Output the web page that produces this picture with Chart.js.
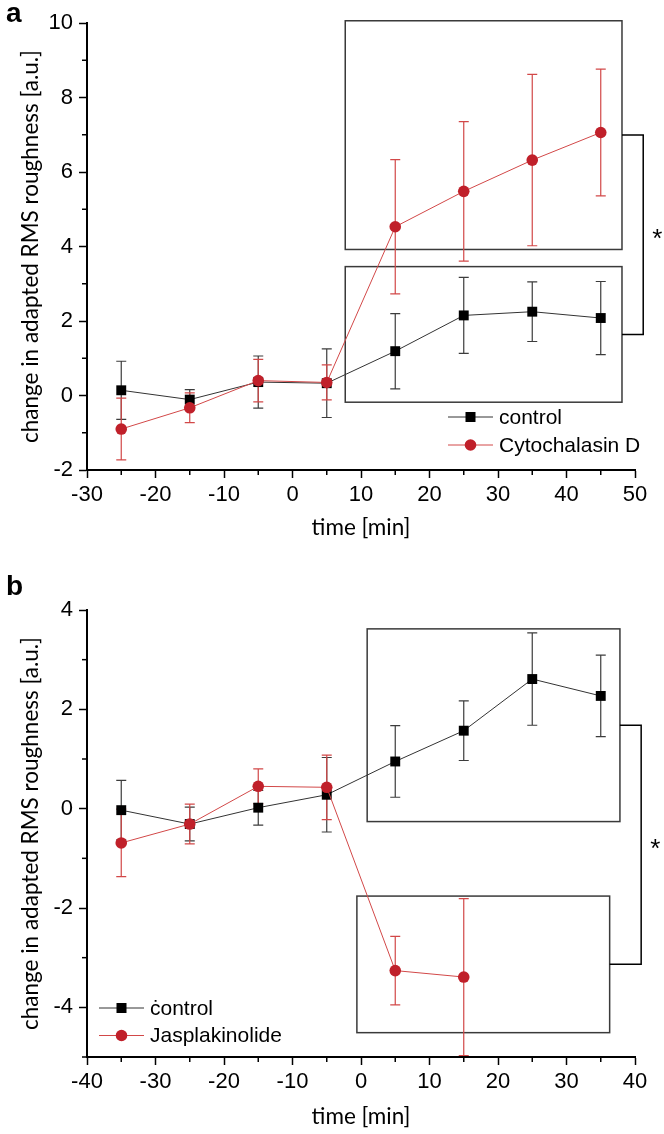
<!DOCTYPE html>
<html lang="en">

<head>
    <meta charset="UTF-8">
    <meta name="viewport" content="width=device-width, initial-scale=1.0">
    <style>
        html, body {
            margin: 0;
            padding: 0;
            background-color: #ffffff;
            overflow: hidden;
        }

        .panel {
            position: absolute;
            left: 0;
        }

        #chartA { top: 0; }
        #chartB { top: 567px; }
    </style>
    <title>RMS roughness</title>
</head>

<body>
    <canvas id="chartA" class="panel" width="664" height="567"></canvas>
    <canvas id="chartB" class="panel" width="664" height="567"></canvas>
    <script src="https://cdn.jsdelivr.net/npm/chart.js"></script>

    <script>
        // panel a
        const timesA = [-25, -15, -5, 5, 15, 25, 35, 45];
        const controlA = [0.14, -0.11, 0.36, 0.33, 1.19, 2.15, 2.25, 2.08];
        const controlAErr = [0.78, 0.27, 0.70, 0.92, 1.01, 1.02, 0.80, 0.98];
        const cytoD = [-0.90, -0.33, 0.40, 0.35, 4.53, 5.48, 6.32, 7.06];
        const cytoDErr = [0.83, 0.40, 0.57, 0.47, 1.80, 1.87, 2.30, 1.70];
        const xTicksA = [-30, -20, -10, 0, 10, 20, 30, 40, 50];
        const yTicksA = [-2, 0, 2, 4, 6, 8, 10];

        // panel b
        const timesB = [-35, -25, -15, -5, 5, 15, 25, 35];
        const controlB = [-0.03, -0.31, 0.02, 0.28, 0.95, 1.57, 2.61, 2.27];
        const controlBErr = [0.60, 0.34, 0.35, 0.75, 0.72, 0.60, 0.93, 0.82];
        const jasp = [-0.69, -0.31, 0.45, 0.43, -3.26, -3.39];
        const jaspErr = [0.68, 0.40, 0.35, 0.65, 0.69, 1.58];
        const xTicksB = [-40, -30, -20, -10, 0, 10, 20, 30, 40];
        const yTicksB = [-4, -2, 0, 2, 4];

        // highlighted groups [xMin, xMax, yMin, yMax] and significance bracket x
        const boxesA = [[7.7, 48.1, 3.92, 10.06], [7.7, 48.1, -0.18, 3.46]];
        const bracketA = 51.2;
        const boxesB = [[0.9, 37.8, -0.26, 3.62], [-0.6, 36.3, -4.51, -1.76]];
        const bracketB = 40.9;

        const RED = '#c0202a';
        const RED_LINE = '#d24848';
        const tickFont = { family: 'Liberation Sans', size: 22 };
        const titleFont = { family: 'Lato', size: 22.5 };

        const extras = {
            id: 'extras',
            beforeDatasetsDraw(chart, args, opts) {
                const ctx = chart.ctx;
                const x = chart.scales.x, y = chart.scales.y;
                ctx.save();
                // group boxes
                ctx.strokeStyle = '#3a3a3a';
                ctx.lineWidth = 1.5;
                opts.boxes.forEach(b => {
                    const x0 = x.getPixelForValue(b[0]), x1 = x.getPixelForValue(b[1]);
                    const y0 = y.getPixelForValue(b[3]), y1 = y.getPixelForValue(b[2]);
                    ctx.strokeRect(x0, y0, x1 - x0, y1 - y0);
                });
                // bracket between boxes
                const bx = x.getPixelForValue(opts.bracket);
                const ends = opts.boxes.map(b => [x.getPixelForValue(b[1]), y.getPixelForValue((b[2] + b[3]) / 2)]);
                ctx.strokeStyle = '#000';
                ctx.beginPath();
                ctx.moveTo(ends[0][0], ends[0][1]);
                ctx.lineTo(bx, ends[0][1]);
                ctx.lineTo(bx, ends[1][1]);
                ctx.lineTo(ends[1][0], ends[1][1]);
                ctx.stroke();
                ctx.fillStyle = '#000';
                ctx.font = '26px "Liberation Sans"';
                ctx.textAlign = 'left';
                ctx.textBaseline = 'middle';
                ctx.fillText('*', bx + 9, (ends[0][1] + ends[1][1]) / 2 + 5);

                // error bars
                chart.data.datasets.forEach(ds => {
                    ctx.strokeStyle = ds.errColor;
                    ctx.lineWidth = 1.2;
                    ds.data.forEach((p, i) => {
                        const px = x.getPixelForValue(p.x);
                        const top = y.getPixelForValue(p.y + ds.err[i]);
                        const bot = y.getPixelForValue(Math.max(p.y - ds.err[i], y.min));
                        ctx.beginPath();
                        ctx.moveTo(px, top);
                        ctx.lineTo(px, bot);
                        ctx.moveTo(px - 5, top);
                        ctx.lineTo(px + 5, top);
                        if (p.y - ds.err[i] > y.min) {
                            ctx.moveTo(px - 5, bot);
                            ctx.lineTo(px + 5, bot);
                        }
                        ctx.stroke();
                    });
                });

                // minor ticks
                ctx.strokeStyle = '#000';
                ctx.lineWidth = 1.5;
                const cb = chart.chartArea.bottom, cl = chart.chartArea.left;
                for (let v = x.min + opts.xMinor; v < x.max; v += opts.xMinor * 2) {
                    const px = x.getPixelForValue(v);
                    ctx.beginPath(); ctx.moveTo(px, cb); ctx.lineTo(px, cb + 5); ctx.stroke();
                }
                for (let v = y.min; v < y.max; v += 1) {
                    if (Math.abs(v % 2) !== 1) continue;
                    const py = y.getPixelForValue(v);
                    ctx.beginPath(); ctx.moveTo(cl, py); ctx.lineTo(cl - 5, py); ctx.stroke();
                }
                ctx.restore();
            },
            afterDraw(chart, args, opts) {
                const ctx = chart.ctx;
                const lg = opts.legend;
                ctx.save();
                ctx.font = '21px "Liberation Sans"';
                ctx.textBaseline = 'middle';
                ctx.textAlign = 'left';
                chart.data.datasets.slice().sort((a, b) => b.order - a.order).forEach((ds, i) => {
                    const yy = lg.y + i * lg.gap;
                    ctx.strokeStyle = ds.borderColor;
                    ctx.lineWidth = 1;
                    ctx.beginPath();
                    ctx.moveTo(lg.x, yy);
                    ctx.lineTo(lg.x + 45, yy);
                    ctx.stroke();
                    ctx.fillStyle = ds.pointBackgroundColor;
                    if (ds.pointStyle === 'rect') {
                        ctx.fillRect(lg.x + 22.5 - 5, yy - 5, 10, 10);
                    } else {
                        ctx.beginPath();
                        ctx.arc(lg.x + 22.5, yy, 5.8, 0, Math.PI * 2);
                        ctx.fill();
                    }
                    ctx.fillStyle = '#000';
                    ctx.fillText(ds.label, lg.x + 51, yy + 1);
                });
                ctx.restore();
            }
        };

        function makeChart(id, cfg) {
            const pts = (xs, ys) => ys.map((v, i) => ({ x: xs[i], y: v }));
            return new Chart(document.getElementById(id), {
                type: 'line',
                data: {
                    datasets: [
                        {
                            label: cfg.names[0],
                            data: pts(cfg.times, cfg.control),
                            err: cfg.controlErr,
                            errColor: '#3c3c3c',
                            borderColor: '#333333',
                            borderWidth: 1,
                            pointStyle: 'rect',
                            pointRadius: 7,
                            pointBackgroundColor: '#000',
                            pointBorderColor: '#000',
                            pointBorderWidth: 0,
                            order: 2
                        },
                        {
                            label: cfg.names[1],
                            data: pts(cfg.times, cfg.treated),
                            err: cfg.treatedErr,
                            errColor: RED_LINE,
                            borderColor: RED_LINE,
                            borderWidth: 1,
                            pointStyle: 'circle',
                            pointRadius: 5.8,
                            pointBackgroundColor: RED,
                            pointBorderColor: RED,
                            pointBorderWidth: 0,
                            order: 1
                        }
                    ]
                },
                options: {
                    responsive: false,
                    animation: false,
                    devicePixelRatio: 1,
                    layout: { padding: { left: 0, right: 29, top: cfg.top, bottom: 0 } },
                    plugins: {
                        legend: { display: false },
                        tooltip: { enabled: false },
                        extras: {
                            boxes: cfg.boxes,
                            bracket: cfg.bracket,
                            xMinor: 5,
                            legend: cfg.legend
                        }
                    },
                    scales: {
                        x: {
                            type: 'linear',
                            min: cfg.xTicks[0],
                            max: cfg.xTicks[cfg.xTicks.length - 1],
                            afterBuildTicks: s => { s.ticks = cfg.xTicks.map(v => ({ value: v })); },
                            afterFit: s => { s.height = cfg.xHeight; },
                            border: { color: '#000', width: 2 },
                            grid: { drawOnChartArea: false, tickLength: 8, color: '#000', tickWidth: 1.5 },
                            ticks: { color: '#000', font: tickFont, padding: 4, maxRotation: 0 },
                            title: {
                                display: true, text: 'time [min]', color: '#000', font: titleFont,
                                padding: { top: 0, bottom: cfg.xTitlePad }
                            }
                        },
                        y: {
                            type: 'linear',
                            min: cfg.yMin,
                            max: cfg.yTicks[cfg.yTicks.length - 1],
                            afterBuildTicks: s => { s.ticks = cfg.yTicks.map(v => ({ value: v })); },
                            afterFit: s => { s.width = 87; },
                            border: { color: '#000', width: 2 },
                            grid: { drawOnChartArea: false, tickLength: 8, color: '#000', tickWidth: 1.5 },
                            ticks: { color: '#000', font: tickFont, padding: 6 },
                            title: {
                                display: true, text: 'change in adapted RMS roughness [a.u.]', color: '#000', font: titleFont,
                                padding: { top: 17, bottom: 0 }
                            }
                        }
                    }
                },
                plugins: [extras, {
                    id: 'panelLetter',
                    afterDraw(chart) {
                        const ctx = chart.ctx;
                        ctx.save();
                        ctx.font = 'bold 28px "Liberation Sans"';
                        ctx.fillStyle = '#000';
                        ctx.textBaseline = 'alphabetic';
                        ctx.fillText(cfg.letter, 6, cfg.letterY);
                        ctx.restore();
                    }
                }]
            });
        }

        makeChart('chartA', {
            times: timesA, control: controlA, controlErr: controlAErr,
            treated: cytoD, treatedErr: cytoDErr,
            names: ['control', 'Cytochalasin D'],
            xTicks: xTicksA, yTicks: yTicksA, yMin: -2,
            boxes: boxesA, bracket: bracketA,
            top: 23, xHeight: 97, xTitlePad: 26,
            legend: { x: 448, y: 417, gap: 28 },
            letter: 'a', letterY: 22
        });

        makeChart('chartB', {
            times: timesB, control: controlB, controlErr: controlBErr,
            treated: jasp, treatedErr: jaspErr,
            names: ['ċontrol', 'Jasplakinolide'],
            xTicks: xTicksB, yTicks: yTicksB, yMin: -5,
            boxes: boxesB, bracket: bracketB,
            top: 43, xHeight: 77, xTitlePad: 4,
            legend: { x: 99, y: 441, gap: 27.5 },
            letter: 'b', letterY: 28
        });
    </script>

</body>

</html>
